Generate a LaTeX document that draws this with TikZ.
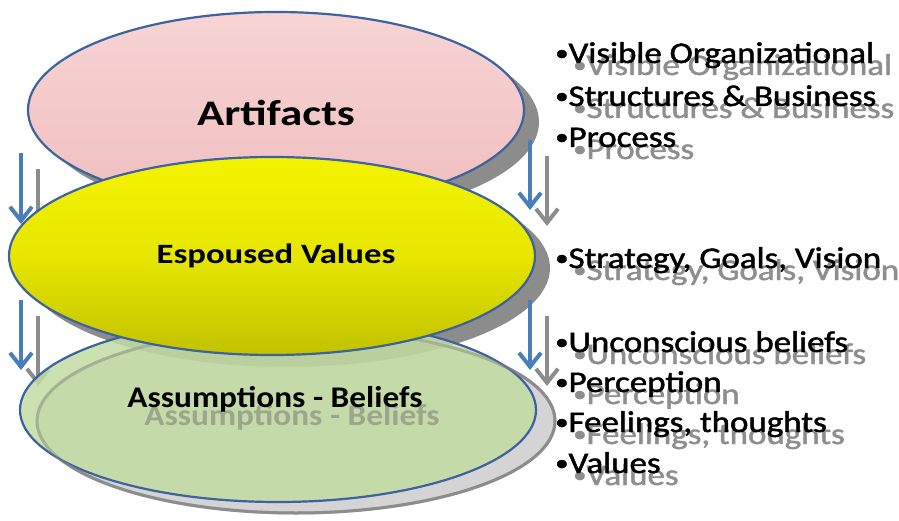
\documentclass[tikz,border=0pt]{standalone}
\usepackage{fontspec}
\setmainfont{Carlito}
\newfontfamily\heavyfont[FakeBold=1.4]{Carlito}
\usetikzlibrary{shapes.geometric,arrows.meta}
\definecolor{pinkTop}{HTML}{F7D4D4}
\definecolor{pinkBot}{HTML}{F0BEBF}
\definecolor{yelTop}{HTML}{F4F400}
\definecolor{yelMid}{HTML}{E6E600}
\definecolor{yelBot}{HTML}{C2C200}
\definecolor{grnFill}{HTML}{C2DCA2}
\definecolor{bordBlue}{HTML}{3C62A0}
\definecolor{arrBlue}{HTML}{4A7EBB}
\definecolor{shGray}{HTML}{8C8C8C}
\definecolor{shLight}{HTML}{D4D4D4}
\definecolor{txtGray}{HTML}{8E8E8E}
\tikzset{
  layer/.style={ellipse, inner sep=0pt, outer sep=0pt},
  rim/.style={draw=bordBlue, line width=2.2pt},
  blueArr/.style={draw=arrBlue, line width=4pt, -{Straight Barb[length=14pt,width=22pt]}},
  grayArr/.style={draw=shGray, line width=4pt, -{Straight Barb[length=14pt,width=22pt]}},
  bul/.style={anchor=base west, inner sep=0pt, font=\heavyfont\fontsize{30}{30}\selectfont},
  bulS/.style={bul, text=txtGray},
  title/.style={anchor=base, inner sep=0pt},
}
\newcommand{\hs}[2]{\scalebox{#1}[1]{#2}}
\newcommand{\bu}{\raisebox{2.5pt}{\fontsize{23}{23}\selectfont •}}
\begin{document}
\begin{tikzpicture}[x=1pt,y=-1pt]
\useasboundingbox (0,0) rectangle (899,521);
% Artifacts layer
\node[layer, fill=shGray, minimum width=496pt, minimum height=196pt] (artSh) at (291,122) {};
\node[layer, rim, top color=pinkTop, bottom color=pinkBot, minimum width=496pt, minimum height=196pt] (art) at (276,110) {};
% Assumptions shadow
\node[layer, fill=shLight, draw=shGray, line width=3pt, minimum width=518pt, minimum height=184pt] (assSh) at (296,421) {};
% Espoused shadow
\node[layer, fill=shGray, minimum width=526pt, minimum height=198pt] (espSh) at (287,268) {};
% gray arrow shadows
\coordinate (g1a) at (38,169); \coordinate (g1b) at (38,240);
\coordinate (g2a) at (547,156); \coordinate (g2b) at (547,226);
\coordinate (g3a) at (38,316); \coordinate (g3b) at (38,386);
\coordinate (g4a) at (547,316); \coordinate (g4b) at (547,386);
\draw[grayArr] (g1a) -- (g1b);
\draw[grayArr] (g2a) -- (g2b);
\draw[grayArr] (g3a) -- (g3b);
\draw[grayArr] (g4a) -- (g4b);
% Assumptions layer
\node[layer, rim, fill=grnFill, fill opacity=0.85, minimum width=516pt, minimum height=184pt] (ass) at (278,410) {};
\node[layer, draw=shGray, draw opacity=0.45, line width=3pt, minimum width=518pt, minimum height=184pt] (assRim) at (296,421) {};
% Espoused layer
\node[layer, rim, top color=yelTop, bottom color=yelBot, middle color=yelMid, minimum width=526pt, minimum height=198pt] (esp) at (272,256) {};
% labels
\node[title, font=\bfseries\fontsize{36}{36}\selectfont] (artL) at (276,126) {\hs{1.25}{Artifacts}};
\node[title, font=\bfseries\fontsize{28}{28}\selectfont] (espL) at (276,264) {\hs{1.24}{Espoused Values}};
\node[title, font=\bfseries\fontsize{30}{30}\selectfont, text=black!55, text opacity=0.5] (assLS) at (292,425) {\hs{1.11}{Assumptions - Beliefs}};
\node[title, font=\bfseries\fontsize{30}{30}\selectfont] (assL) at (275,407) {\hs{1.11}{Assumptions - Beliefs}};
% right bullets, shadows first
\node[bulS] (s1) at (573,75) {\hs{1.165}{\bu Visible Organizational}};
\node[bulS] (s2) at (573,118) {\hs{1.165}{\bu Structures \& Business}};
\node[bulS] (s3) at (573,159) {\hs{1.165}{\bu Process}};
\node[bulS] (s4) at (573,280) {\hs{1.165}{\bu Strategy, Goals, Vision}};
\node[bulS] (s5) at (573,364) {\hs{1.165}{\bu Unconscious beliefs}};
\node[bulS] (s6) at (573,404) {\hs{1.165}{\bu Perception}};
\node[bulS] (s7) at (573,444) {\hs{1.165}{\bu Feelings, thoughts}};
\node[bulS] (s8) at (573,485) {\hs{1.165}{\bu Values}};
\node[bul] (b1) at (555,63) {\hs{1.165}{\bu Visible Organizational}};
\node[bul] (b2) at (555,106) {\hs{1.165}{\bu Structures \& Business}};
\node[bul] (b3) at (555,147) {\hs{1.165}{\bu Process}};
\node[bul] (b4) at (555,268) {\hs{1.165}{\bu Strategy, Goals, Vision}};
\node[bul] (b5) at (555,352) {\hs{1.165}{\bu Unconscious beliefs}};
\node[bul] (b6) at (555,392) {\hs{1.165}{\bu Perception}};
\node[bul] (b7) at (555,432) {\hs{1.165}{\bu Feelings, thoughts}};
\node[bul] (b8) at (555,473) {\hs{1.165}{\bu Values}};
% blue arrows
\coordinate (a1a) at (21,153); \coordinate (a1b) at (21,224);
\coordinate (a2a) at (530,140); \coordinate (a2b) at (530,210);
\coordinate (a3a) at (21,300); \coordinate (a3b) at (21,370);
\coordinate (a4a) at (530,300); \coordinate (a4b) at (530,370);
\draw[blueArr] (a1a) -- (a1b);
\draw[blueArr] (a2a) -- (a2b);
\draw[blueArr] (a3a) -- (a3b);
\draw[blueArr] (a4a) -- (a4b);
\end{tikzpicture}
\end{document}
